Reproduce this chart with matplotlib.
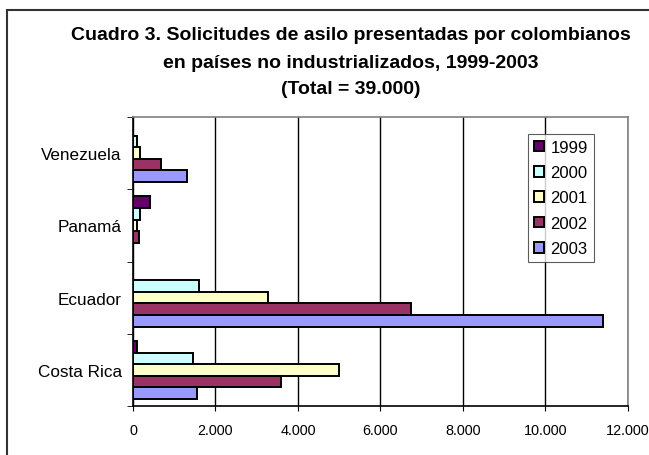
import numpy as np
import matplotlib.pyplot as plt
from matplotlib.patches import Rectangle
from matplotlib.ticker import FuncFormatter

plt.rcParams['font.family'] = ['Liberation Sans', 'DejaVu Sans']

paises = ['Costa Rica', 'Ecuador', 'Panamá', 'Venezuela']
anios = ['1999', '2000', '2001', '2002', '2003']
v1999 = [90, 0, 410, 0]
v2000 = [1460, 1600, 180, 100]
v2001 = [5000, 3280, 100, 180]
v2002 = [3600, 6750, 140, 680]
v2003 = [1540, 11400, 0, 1320]
colores = ['#660066', '#CCFFFF', '#FFFFCC', '#993366', '#9999FF']

series = [v1999, v2000, v2001, v2002, v2003]

fig = plt.figure(figsize=(6.49, 4.56), dpi=100)
# marco exterior (cortado por la derecha y abajo)
fig.patches.append(Rectangle((6.5 / 649, -20 / 456), 700 / 649, (456 - 11 + 20) / 456,
                             transform=fig.transFigure, fill=False,
                             edgecolor='#333333', linewidth=1.5))

ax = fig.add_axes([133 / 649, 49 / 456, 495 / 649, 289 / 456])

y = np.arange(len(paises))
h = 0.16
for i, (vals, c) in enumerate(zip(series, colores)):
    off = (2 - i) * h
    ax.barh(y + off, vals, height=h, color=c, edgecolor='black',
            linewidth=1.4, label=anios[i], zorder=3)

ax.set_xlim(0, 12000)
ax.set_ylim(-0.5, 3.5)
ax.set_xticks(np.arange(0, 12001, 2000))
ax.xaxis.set_major_formatter(FuncFormatter(lambda v, p: f'{int(v):,}'.replace(',', '.')))
ax.set_yticks(y)
ax.set_yticklabels(paises, fontsize=12.3)
ax.set_yticks(np.arange(-0.5, 3.6, 1), minor=True)
ax.tick_params(axis='y', which='major', length=0, pad=8)
ax.tick_params(axis='y', which='minor', length=4, direction='out')
ax.tick_params(axis='x', labelsize=10.4, length=3.5, direction='out', pad=8.5)
ax.grid(axis='x', color='black', linewidth=1.0, zorder=0)

for s in ['top', 'right']:
    ax.spines[s].set_color('#808080')
    ax.spines[s].set_linewidth(1.2)
ax.spines['left'].set_linewidth(1.2)
ax.spines['bottom'].set_linewidth(1.2)

leg = ax.legend(loc='upper left', bbox_to_anchor=(395 / 495, 1 - 17 / 289),
                fontsize=12, frameon=True, fancybox=False, edgecolor='#333333',
                handlelength=0.6, handleheight=0.6, handletextpad=0.4,
                labelspacing=0.62, borderpad=0.35, borderaxespad=0)
leg.get_frame().set_linewidth(0.8)
leg.set_zorder(5)

titulos = ['Cuadro 3. Solicitudes de asilo presentadas por colombianos',
           'en países no industrializados, 1999-2003',
           '(Total = 39.000)']
for t, yy in zip(titulos, [35, 63, 89]):
    fig.text(351 / 649, 1 - yy / 456, t, ha='center', va='center',
             fontsize=14, fontweight='bold')

fig.savefig('out.png', dpi=100)
